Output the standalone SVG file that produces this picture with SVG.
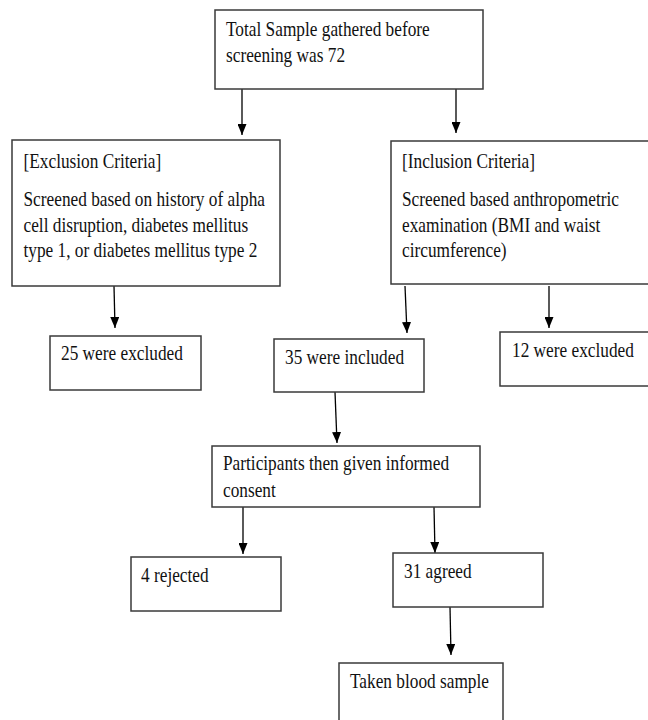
<svg xmlns="http://www.w3.org/2000/svg" width="648" height="720" viewBox="0 0 648 720">
<style>
.box{fill:#fff;stroke:#3a3a3a;stroke-width:1.5}
.t{font-family:"Liberation Serif","Times New Roman",serif;font-size:17.3px;fill:#111}
.c{stroke:#000;stroke-width:1.3;fill:none;marker-end:url(#ah)}
</style>
<defs>
<marker id="ah" markerUnits="userSpaceOnUse" markerWidth="11" markerHeight="9" viewBox="0 0 11 9" refX="11" refY="4.5" orient="auto">
<path d="M0,0 L11,4.5 L0,9 Z" fill="#000"/>
</marker>
</defs>
<rect width="648" height="720" fill="#fff"/>
<g id="connectors">
<line class="c" x1="242" y1="89" x2="242" y2="135"/>
<line class="c" x1="456" y1="88" x2="456" y2="133"/>
<line class="c" x1="114" y1="286" x2="115" y2="328"/>
<line class="c" x1="405" y1="286" x2="407" y2="333"/>
<line class="c" x1="549" y1="286" x2="549" y2="328"/>
<line class="c" x1="335" y1="392" x2="337" y2="443"/>
<line class="c" x1="243" y1="507" x2="243" y2="554"/>
<line class="c" x1="434" y1="507" x2="435" y2="553"/>
<line class="c" x1="450" y1="607" x2="451" y2="655"/>
</g>
<g id="total">
<rect class="box" x="215" y="10" width="268" height="79"/>
<text class="t" transform="translate(226,36) scale(1,1.2)"><tspan x="0" y="0">Total Sample gathered before</tspan><tspan x="0" dy="21.7">screening was 72</tspan></text>
</g>
<g id="exclusion">
<rect class="box" x="12" y="140" width="268" height="146"/>
<text class="t" transform="translate(23.5,167.5) scale(1,1.2)"><tspan x="0" y="0">[Exclusion Criteria]</tspan><tspan x="0" dy="32.3">Screened based on history of alpha</tspan><tspan x="0" dy="21.2">cell disruption, diabetes mellitus</tspan><tspan x="0" dy="21.2">type 1, or diabetes mellitus type 2</tspan></text>
</g>
<g id="inclusion">
<rect class="box" x="391" y="141" width="262" height="143"/>
<text class="t" transform="translate(402,167.5) scale(1,1.2)"><tspan x="0" y="0">[Inclusion Criteria]</tspan><tspan x="0" dy="32.3">Screened based anthropometric</tspan><tspan x="0" dy="21.2">examination (BMI and waist</tspan><tspan x="0" dy="21.2">circumference)</tspan></text>
</g>
<g id="excluded25">
<rect class="box" x="50" y="336" width="151" height="54"/>
<text class="t" transform="translate(61,360) scale(1,1.2)">25 were excluded</text>
</g>
<g id="included35">
<rect class="box" x="274" y="339" width="150" height="53"/>
<text class="t" transform="translate(285,364) scale(1,1.2)">35 were included</text>
</g>
<g id="excluded12">
<rect class="box" x="500" y="332" width="155" height="54"/>
<text class="t" transform="translate(512,357) scale(1,1.2)">12 were excluded</text>
</g>
<g id="consent">
<rect class="box" x="212" y="446" width="268" height="61"/>
<text class="t" transform="translate(223,470) scale(1,1.2)"><tspan x="0" y="0">Participants then given informed</tspan><tspan x="0" dy="22.5">consent</tspan></text>
</g>
<g id="rejected">
<rect class="box" x="131" y="557" width="150" height="54"/>
<text class="t" transform="translate(141,582) scale(1,1.2)">4 rejected</text>
</g>
<g id="agreed">
<rect class="box" x="393" y="553" width="150" height="54"/>
<text class="t" transform="translate(404,578) scale(1,1.2)">31 agreed</text>
</g>
<g id="blood">
<rect class="box" x="339" y="663" width="164" height="70"/>
<text class="t" transform="translate(350,688) scale(1,1.2)">Taken blood sample</text>
</g>
</svg>
